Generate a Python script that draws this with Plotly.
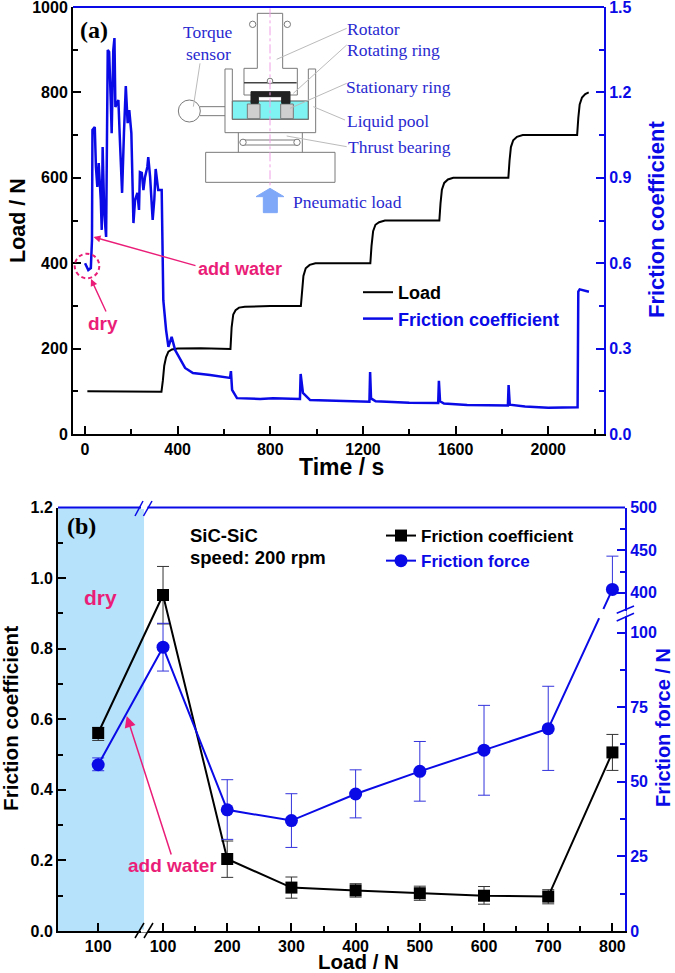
import plotly.graph_objects as go

W, H = 675, 973

# ---------- panel (a) data ----------
load_time = [10, 100, 200, 330, 336, 342, 350, 360, 375, 400, 500, 628, 633, 640, 650, 665, 690, 800, 932, 937, 943, 953, 970, 995,
             1100, 1232, 1237, 1244, 1254, 1270, 1295, 1400, 1530, 1535, 1541, 1551, 1567, 1590, 1700, 1828, 1833, 1839, 1849, 1865,
             1890, 2000, 2125, 2130, 2136, 2146, 2160, 2175]
load_values = [100, 100, 99, 99, 125, 160, 180, 193, 198, 200, 201, 199, 250, 280, 290, 296, 298, 300, 300, 340, 370, 388, 396, 400,
               400, 400, 440, 475, 490, 496, 500, 500, 500, 540, 572, 588, 596, 600, 600, 600, 640, 672, 688, 696, 700, 700, 700,
               740, 772, 788, 796, 800]
mu_time = [0, 14, 25, 30, 32, 42, 47, 53, 59, 68, 72, 76, 83, 91, 98, 104, 111, 115, 122, 127, 131, 144, 151, 160, 168, 176, 184,
           191, 200, 209, 216, 226, 233, 237, 245, 252, 259, 269, 273, 281, 292, 299, 305, 312, 316, 331, 338, 350, 360, 374, 389, 432,
           466, 540, 626, 630, 635, 656, 756, 812, 928, 931, 941, 972, 1131, 1228, 1231, 1235, 1255, 1300, 1400, 1525, 1528, 1533,
           1550, 1650, 1826, 1829, 1834, 1900, 2000, 2127, 2130, 2136, 2150, 2176]
mu_values = [0.60, 0.576, 0.583, 0.681, 1.068, 1.078, 0.938, 0.868, 0.952, 0.822, 0.717, 1.008, 0.776, 0.692, 1.349, 1.342, 1.173,
             1.057, 1.349, 1.391, 1.149, 1.173, 1.022, 0.847, 1.057, 1.222, 1.092, 1.138, 1.057, 0.741, 0.822, 0.847, 0.787, 0.92,
             0.917, 0.857, 0.903, 0.938, 0.973, 0.903, 0.752, 0.822, 0.931, 0.882, 0.857, 0.857, 0.47, 0.365, 0.306, 0.341, 0.295,
             0.232, 0.214, 0.207, 0.197, 0.221, 0.155, 0.126, 0.123, 0.126, 0.123, 0.211, 0.144, 0.119, 0.116, 0.113, 0.218, 0.125,
             0.115, 0.113, 0.110, 0.109, 0.187, 0.115, 0.107, 0.102, 0.100, 0.172, 0.103, 0.097, 0.092, 0.094, 0.5, 0.508, 0.505, 0.5]

# ---------- panel (b) data ----------
load_labels = ["100", "100", "200", "300", "400", "500", "600", "700", "800"]
cof_values = [0.561, 0.952, 0.204, 0.123, 0.115, 0.107, 0.100, 0.0975, 0.506]
cof_err_up = [0.016, 0.081, 0.051, 0.030, 0.019, 0.020, 0.026, 0.0195, 0.051]
cof_err_dn = [0.021, 0.082, 0.052, 0.030, 0.019, 0.020, 0.024, 0.0205, 0.051]
force_values = [55.7, 95.1, 40.6, 37.0, 45.9, 53.5, 60.6, 67.8, 404]
force_err_up = [2.3, 8, 10.1, 9, 8.1, 10, 15, 14.2, 39]
force_err_dn = [2.0, 8, 9.9, 9, 8, 10, 15.1, 14, 0]
positions = [-0.01, 1, 2, 3, 4, 5, 6, 7, 8]

BLUE = "#0A0AE6"
PINK = "#EA1E78"
SCHEM = "#2A2AD0"
GR = "#7a7a7a"


def squeeze(v):
    """Broken right axis of panel (b): 0-100 linear, then 400-500 compressed."""
    return v if v <= 200 else 113.3 + (v - 400) * 0.286


def px(x):
    return x / W


def py(y):
    return 1 - y / H


shapes, annos = [], []


def seg(x0, y0, x1, y1, color=GR, width=1, dash=None, layer="above"):
    shapes.append(dict(type="line", xref="paper", yref="paper", x0=px(x0), y0=py(y0), x1=px(x1), y1=py(y1), layer=layer,
                       line=dict(color=color, width=width, dash=dash)))


def poly(pts, fill="rgba(0,0,0,0)", color=GR, width=1):
    d = "M" + " L".join(f"{px(x):.5f},{py(y):.5f}" for x, y in pts) + " Z"
    shapes.append(dict(type="path", xref="paper", yref="paper", path=d, fillcolor=fill, line=dict(color=color, width=width)))


def circ(cx, cy, r, fill="white", color=GR, width=1, dash=None):
    shapes.append(dict(type="circle", xref="paper", yref="paper", x0=px(cx - r), x1=px(cx + r), y0=py(cy + r), y1=py(cy - r),
                       fillcolor=fill, line=dict(color=color, width=width, dash=dash)))


def zx(v):
    return 60 + v / 3


def zy(v):
    return v / 3


def zp(pts):
    return [(zx(a), zy(b)) for a, b in pts]


def text(x, y, s, size, color="black", bold=True, family="Liberation Sans", xanchor="center", angle=0):
    annos.append(dict(xref="paper", yref="paper", x=px(x), y=py(y), text=s, showarrow=False, xanchor=xanchor, yanchor="middle",
                      textangle=angle, font=dict(size=size, color=color, family=family, weight="bold" if bold else "normal")))


def arrow(x0, y0, x1, y1, color=PINK, width=1.2, size=1.0):
    annos.append(dict(xref="paper", yref="paper", axref="pixel", ayref="pixel", x=px(x1), y=py(y1), ax=x0 - x1, ay=y0 - y1, text="",
                      showarrow=True, arrowcolor=color, arrowwidth=width, arrowhead=2, arrowsize=size))


# ---------- schematic inset ----------
poly(zp([(517, 303), (745, 303), (745, 358), (517, 358)]), fill="#7FF3F3", color="#555")
poly(zp([(562, 312), (600, 312), (600, 356), (562, 356)]), fill="#CFCFCF")
poly(zp([(662, 312), (700, 312), (700, 356), (662, 356)]), fill="#CFCFCF")
poly(zp([(592, 40), (668, 40), (668, 205), (712, 205), (712, 285), (552, 285), (552, 205), (592, 205)]))
seg(zx(552), zy(248), zx(710), zy(248), color="#444", width=1.5)
poly(zp([(573, 275), (690, 275), (690, 310), (665, 310), (665, 290), (595, 290), (595, 310), (573, 310)]), fill="#222", color="#222")
poly(zp([(495, 207), (517, 207), (517, 358), (745, 358), (745, 207), (767, 207), (767, 398), (495, 398)]))
poly(zp([(437, 457), (825, 457), (825, 547), (437, 547)]))
seg(zx(535), zy(398), zx(535), zy(457))
seg(zx(727), zy(398), zx(727), zy(457))
seg(zx(550), zy(420), zx(710), zy(420))
seg(zx(550), zy(435), zx(710), zy(435))
seg(zx(420), zy(320), zx(495), zy(320))
seg(zx(420), zy(347), zx(495), zy(347))
circ(zx(388), zy(333), 11)
for cx, cy, r in [(578, 73, 3.2), (682, 73, 3.2), (630, 243, 2.8), (549, 427, 3.2), (711, 427, 3.2)]:
    circ(zx(cx), zy(cy), r)
seg(zx(630), zy(25), zx(630), zy(560), color="#F0A0E8", width=1, dash="dashdot")
poly(zp([(610, 638), (652, 638), (652, 590), (672, 590), (630, 565), (588, 590), (610, 590)]), fill="#7FA8F8", color="#7FA8F8")
for a, b, c, d in [(650, 178, 860, 85), (700, 280, 860, 135), (690, 325, 860, 250), (760, 320, 855, 360), (680, 408, 860, 440),
                   (400, 320, 420, 190)]:
    seg(zx(a), zy(b), zx(c), zy(d), color="#BBBBBB")
for s, x, y in [("Rotator", 345, 29), ("Rotating ring", 345, 50), ("Stationary ring", 344, 87), ("Liquid pool", 345, 121),
                ("Thrust bearing", 346, 147), ("Pneumatic load", 291, 202)]:
    text(x, y, s, 17.5, SCHEM, False, "Liberation Serif", "left")
text(208, 32, "Torque", 17.5, SCHEM, False, "Liberation Serif")
text(208, 54, "sensor", 17.5, SCHEM, False, "Liberation Serif")

# ---------- frame extras ----------
seg(73, 7, 604, 7, BLUE, 2)
seg(58, 507.5, 625, 507.5, BLUE, 2)
seg(141, 507.5, 147.5, 507.5, "white", 3)
seg(141, 931, 147.5, 931, "white", 3)
seg(135, 516, 143, 501, BLUE, 1.5)
seg(143.5, 516, 152, 501, BLUE, 1.5)
seg(135, 938, 144, 923, "black", 1.5)
seg(144, 938, 153, 923, "black", 1.5)
seg(625, 611, 625, 616, "white", 3)
seg(616.7, 613.3, 634, 606, BLUE, 1.5)
seg(616.7, 621, 634, 613.3, BLUE, 1.5)
seg(599.2, 618.3, 602.8, 608.7, "white", 4)
shapes.append(dict(type="rect", xref="x2", yref="paper", x0=-0.64, x1=0.704, y0=py(931), y1=py(507.5), layer="below",
                   fillcolor="#B6E2FB", line=dict(width=0)))
circ(87, 266, 12.3, fill="rgba(0,0,0,0)", color=PINK, width=2, dash="4px,3px")

# ---------- labels ----------
text(94, 30, "(a)", 24, "black", True, "Liberation Serif")
text(81, 526, "(b)", 24, "black", True, "Liberation Serif")
text(240, 269, "add water", 18, PINK)
text(103, 323, "dry", 19, PINK)
text(100, 597, "dry", 21, PINK)
text(172, 865, "add water", 19, PINK)
text(188, 535, "SiC-SiC", 18.5, xanchor="left")
text(188, 557, "speed: 200 rpm", 18.5, xanchor="left")
arrow(197, 266, 93.5, 237, width=1.4)
arrow(106.7, 313, 91, 279, width=1.4)
arrow(171.7, 856, 126.7, 716, width=1.5, size=1.5)

# axis titles
text(341, 467, "Time / s", 23)
text(18, 221, "Load / N", 21.5, angle=-90)
text(656, 220, "Friction coefficient", 22, BLUE, angle=-90)
text(358, 961, "Load / N", 20.5)
text(10, 719, "Friction coefficient", 20.7, angle=-90)
text(663, 728, "Friction force / N", 20, BLUE, angle=-90)

# ---------- traces ----------
fig = go.Figure()
fig.add_trace(go.Scatter(x=load_time, y=load_values, mode="lines", name="Load", xaxis="x", yaxis="y", legend="legend",
                         line=dict(color="black", width=2)))
fig.add_trace(go.Scatter(x=mu_time, y=mu_values, mode="lines", name=f'<span style="color:{BLUE}">Friction coefficient</span>',
                         xaxis="x", yaxis="y2", legend="legend", line=dict(color=BLUE, width=2.5)))
fig.add_trace(go.Scatter(x=positions, y=cof_values, mode="lines+markers", name="Friction coefficient", xaxis="x2", yaxis="y3",
                         legend="legend2", line=dict(color="black", width=2), marker=dict(symbol="square", size=12, color="black"),
                         error_y=dict(type="data", symmetric=False, array=cof_err_up, arrayminus=cof_err_dn, color="#333",
                                      thickness=1, width=6)))
fig.add_trace(go.Scatter(x=positions, y=[squeeze(v) for v in force_values], mode="lines+markers",
                         name=f'<span style="color:{BLUE}">Friction force</span>', xaxis="x2", yaxis="y4", legend="legend2",
                         line=dict(color=BLUE, width=2), marker=dict(symbol="circle", size=13, color=BLUE),
                         error_y=dict(type="data", symmetric=False,
                                      array=[squeeze(v + u) - squeeze(v) for v, u in zip(force_values, force_err_up)],
                                      arrayminus=[squeeze(v) - squeeze(v - d) for v, d in zip(force_values, force_err_dn)],
                                      color="#3333DD", thickness=1, width=6)))

tf = lambda c: dict(size=16, color=c, family="Liberation Sans", weight="bold")


def ax(color, **kw):
    d = dict(showgrid=False, zeroline=False, showline=True, linecolor=color, linewidth=2, ticks="inside", ticklen=8, tickwidth=2,
             tickcolor=color, tickfont=tf(color), automargin=False, ticklabeloverflow="allow")
    d.update(kw)
    return d


def minor(vals, color):
    return dict(tickvals=vals, ticks="inside", ticklen=5, tickwidth=2, tickcolor=color, showgrid=False)


fig.update_layout(
    width=W, height=H, margin=dict(l=0, r=0, t=0, b=0), paper_bgcolor="white", plot_bgcolor="rgba(0,0,0,0)",
    font=dict(family="Liberation Sans"),
    xaxis=ax("black", domain=[73 / W, 604 / W], anchor="y", range=[-52, 2241], tickvals=[0, 400, 800, 1200, 1600, 2000],
             minor=minor([200, 600, 1000, 1400, 1800, 2200], "black")),
    yaxis=ax("black", domain=[py(434), py(7)], anchor="x", range=[0, 1000], tickvals=[0, 200, 400, 600, 800, 1000],
             minor=minor([100, 300, 500, 700, 900], "black")),
    yaxis2=ax(BLUE, domain=[py(434), py(7)], anchor="x", overlaying="y", side="right", range=[0, 1.5],
              tickvals=[0, 0.3, 0.6, 0.9, 1.2, 1.5], ticktext=["0.0", "0.3", "0.6", "0.9", "1.2", "1.5"],
              minor=minor([0.15, 0.45, 0.75, 1.05, 1.35], BLUE)),
    xaxis2=ax("black", domain=[58 / W, 625 / W], anchor="y3", range=[-0.636, 8.196], tickvals=positions, ticktext=load_labels,
              minor=minor([1.5, 2.5, 3.5, 4.5, 5.5, 6.5, 7.5], "black")),
    yaxis3=ax("black", domain=[py(931), py(507.5)], anchor="x2", range=[0, 1.2], tickvals=[0, 0.2, 0.4, 0.6, 0.8, 1.0, 1.2],
              ticktext=["0.0", "0.2", "0.4", "0.6", "0.8", "1.0", "1.2"], minor=minor([0.1, 0.3, 0.5, 0.7, 0.9, 1.1], "black")),
    yaxis4=ax(BLUE, domain=[py(931), py(507.5)], anchor="x2", overlaying="y3", side="right", range=[0, 141.9],
              tickvals=[squeeze(v) for v in [0, 25, 50, 75, 100, 400, 450, 500]],
              ticktext=["0", "25", "50", "75", "100", "400", "450", "500"],
              minor=minor([squeeze(v) for v in [12.5, 37.5, 62.5, 87.5, 425, 475]], BLUE)),
    legend=dict(x=px(358), y=py(274), xanchor="left", yanchor="top", bgcolor="rgba(0,0,0,0)", itemwidth=30, tracegroupgap=0,
                font=dict(size=18, color="black", family="Liberation Sans", weight="bold")),
    legend2=dict(x=px(381), y=py(518), xanchor="left", yanchor="top", bgcolor="rgba(0,0,0,0)", itemwidth=30, tracegroupgap=0,
                 font=dict(size=17, color="black", family="Liberation Sans", weight="bold")),
    shapes=shapes, annotations=annos,
)

fig.write_html("out.html", config={"displayModeBar": False},
               post_script="document.body.style.margin='0';window.dispatchEvent(new Event('resize'));")
